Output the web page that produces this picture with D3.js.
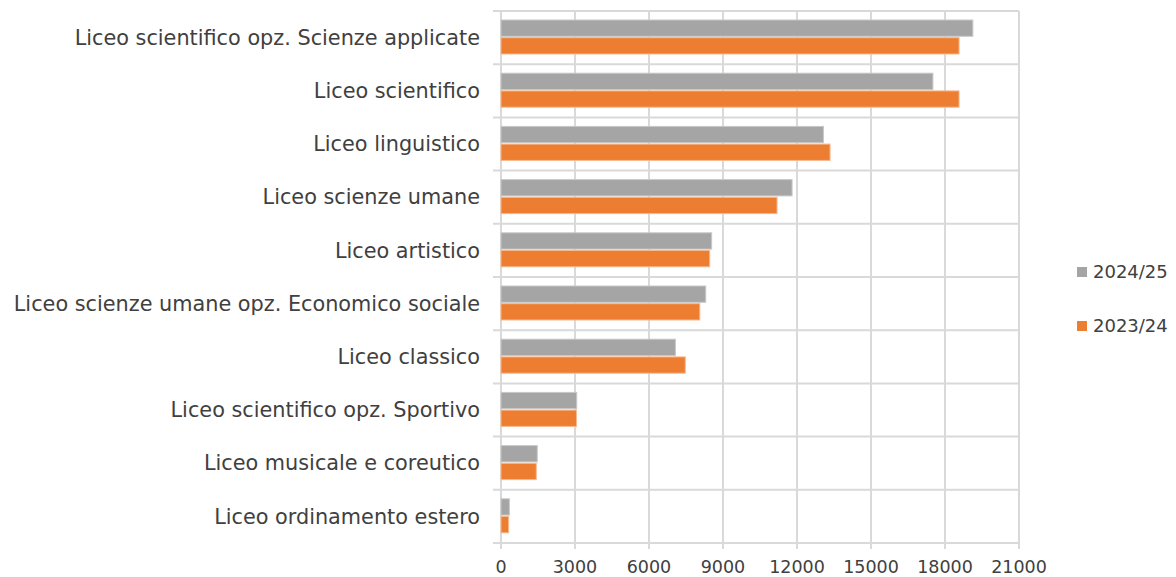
<!DOCTYPE html>
<html><head><meta charset="utf-8">
<script src="https://cdn.jsdelivr.net/npm/d3@7"></script>
<style>body{margin:0;background:#fff}svg text{font-family:"DejaVu Sans",sans-serif;fill:#404040}</style>
</head><body><svg id="c" width="1176" height="577"></svg>
<script>
const categories = ["Liceo scientifico opz. Scienze applicate","Liceo scientifico","Liceo linguistico","Liceo scienze umane","Liceo artistico","Liceo scienze umane opz. Economico sociale","Liceo classico","Liceo scientifico opz. Sportivo","Liceo musicale e coreutico","Liceo ordinamento estero"];
const series = ["2024/25","2023/24"];
const v2024 = [19130,17510,13070,11800,8540,8300,7070,3070,1470,340];
const v2023 = [18570,18570,13340,11190,8460,8060,7470,3060,1430,310];
const xTicks = [0,3000,6000,9000,12000,15000,18000,21000];
const colors = ["#A5A5A5","#ED7D31"];

const svg = d3.select("#c");
const x = d3.scaleLinear().domain([0,21000]).range([501,1019]);
const y = d3.scaleBand().domain(categories).range([11,543]);
const inner = d3.scaleBand().domain(series).range([9,43]).paddingInner(0.08);

svg.append("g").selectAll("line").data(xTicks).join("line")
  .attr("x1",d=>x(d)).attr("x2",d=>x(d)).attr("y1",11).attr("y2",549)
  .attr("stroke","#D9D9D9").attr("stroke-width",2);
const bounds = categories.map(c=>y(c)).concat([y.range()[1]]);
svg.append("g").selectAll("line").data(bounds).join("line")
  .attr("x1",493).attr("x2",1019).attr("y1",d=>d).attr("y2",d=>d)
  .attr("stroke","#D9D9D9").attr("stroke-width",2);

const vals = [v2024,v2023];
series.forEach((s,si)=>{
  svg.append("g").selectAll("rect").data(categories).join("rect")
    .attr("x",x(0)).attr("y",(c)=>y(c)+inner(s))
    .attr("width",(c,i)=>x(vals[si][i])-x(0)).attr("height",inner.bandwidth())
    .attr("fill",colors[si]).attr("stroke", si?"#F5B98F":"#C8C8C8").attr("stroke-width",1);
});

svg.append("g").selectAll("text").data(categories).join("text")
  .attr("x",480).attr("y",c=>y(c)+y.bandwidth()/2).attr("dy","0.35em")
  .attr("text-anchor","end").attr("font-size",20.8).text(d=>d);
svg.append("g").selectAll("text").data(xTicks).join("text")
  .attr("x",d=>x(d)).attr("y",567).attr("dy","0.35em")
  .attr("text-anchor","middle").attr("font-size",17.5).text(d=>d);
const ly = [272,326];
series.forEach((s,i)=>{
  svg.append("rect").attr("x",1077).attr("y",ly[i]-5).attr("width",10).attr("height",10).attr("fill",colors[i]);
  svg.append("text").attr("x",1093).attr("y",ly[i]).attr("dy","0.35em").attr("font-size",18).text(s);
});
</script></body></html>
